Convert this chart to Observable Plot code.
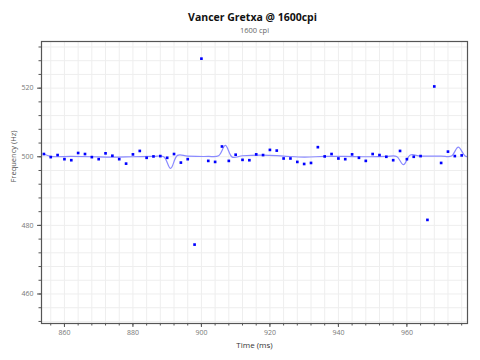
<!DOCTYPE html>
<html>
<head>
<meta charset="utf-8">
<script src="https://cdn.jsdelivr.net/npm/d3@7"></script>
<script src="https://cdn.jsdelivr.net/npm/@observablehq/plot@0.6"></script>
<style>
  body { margin: 0; background: #fff; }
  svg { font-family: "Open Sans", "Noto Sans", sans-serif; }
</style>
</head>
<body>
<div id="chart"></div>
<script>
const title = "Vancer Gretxa @ 1600cpi";
const subtitle = "1600 cpi";
const xLabel = "Time (ms)";
const yLabel = "Frequency (Hz)";

// Sample times (ms) and measured frequencies (Hz)
const times = [854, 856, 858, 860, 862, 864, 866, 868, 870, 872,
  874, 876, 878, 880, 882, 884, 886, 888, 890, 892,
  894, 896, 898, 900, 902, 904, 906, 908, 910, 912,
  914, 916, 918, 920, 922, 924, 926, 928, 930, 932,
  934, 936, 938, 940, 942, 944, 946, 948, 950, 952,
  954, 956, 958, 960, 962, 964, 966, 968, 970, 972,
  974, 976, 978];
const freqs = [500.8, 499.9, 500.5, 499.3, 499.0, 501.1, 500.8, 499.9, 499.3, 501.0,
  500.3, 499.3, 498.0, 500.7, 501.7, 499.7, 500.1, 500.2, 499.7, 500.8,
  498.3, 499.3, 474.4, 528.6, 498.8, 498.5, 503.0, 498.8, 500.6, 499.1,
  499.0, 500.7, 500.5, 502.0, 501.8, 499.5, 499.5, 498.5, 497.9, 498.2,
  502.8, 500.1, 500.8, 499.5, 499.3, 500.7, 499.7, 498.8, 500.8, 500.5,
  500.0, 499.0, 501.7, 499.3, 500.0, 500.2, 481.6, 520.5, 498.2, 501.5,
  500.2, 500.4, 497.4];

// Smoothed trend line (estimated control points)
const trendTimes = [854, 856, 862, 868, 874, 880, 886, 889, 891, 893,
  896, 902, 905, 907, 909, 912, 918, 924, 930, 936,
  942, 948, 954, 957, 959, 961, 964, 970, 973, 975,
  977, 978];
const trendFreqs = [500.8, 500.1, 500.1, 500.0, 499.9, 500.0, 500.1, 500.0, 496.6, 500.4,
  500.2, 500.1, 500.3, 503.3, 499.9, 500.3, 500.5, 500.2, 499.9, 500.1,
  500.1, 500.0, 500.1, 500.1, 497.7, 500.5, 500.2, 500.2, 500.2, 502.8,
  500.2, 500.0];

const xMajor = [860, 880, 900, 920, 940, 960];
const xMinor = [856, 860, 864, 868, 872, 876, 880, 884, 888, 892, 896, 900, 904, 908, 912, 916, 920, 924, 928, 932, 936, 940, 944, 948, 952, 956, 960, 964, 968, 972, 976];
const yMajor = [460, 480, 500, 520];
const yMinor = [452, 456, 460, 464, 468, 472, 476, 480, 484, 488, 492, 496, 500, 504, 508, 512, 516, 520, 524, 528, 532];

const points = times.map((t, i) => ({t, f: freqs[i]}));
const trend = trendTimes.map((t, i) => ({t, f: trendFreqs[i]}));

const chart = Plot.plot({
  width: 480,
  height: 360,
  marginLeft: 41,
  marginRight: 13,
  marginTop: 41,
  marginBottom: 37,
  style: {fontFamily: "'Open Sans', 'Noto Sans', sans-serif", background: "#fff"},
  x: {domain: [853.3, 977.7]},
  y: {domain: [451.4, 533.6]},
  marks: [
    Plot.gridX(xMinor, {stroke: "#eeeeee", strokeOpacity: 1}),
    Plot.gridY(yMinor, {stroke: "#eeeeee", strokeOpacity: 1}),
    Plot.line(trend, {x: "t", y: "f", curve: "catmull-rom", stroke: "#8a8aff", strokeWidth: 1.2, clip: true}),
    Plot.dot(points, {x: "t", y: "f", symbol: "square", r: 1.5, fill: "#0000ff", stroke: "none", clip: true}),
    Plot.frame({stroke: "#555", strokeWidth: 1.2}),
    Plot.axisX(xMinor, {tickSize: 2.5, tickFormat: () => "", label: null, stroke: "#555"}),
    Plot.axisX(xMajor, {tickSize: 4, tickPadding: 3, label: null, fontSize: 7, fill: "#777", stroke: "#555"}),
    Plot.axisY(yMinor, {tickSize: 2.5, tickFormat: () => "", label: null, stroke: "#555"}),
    Plot.axisY(yMajor, {tickSize: 4, tickPadding: 4, label: null, fontSize: 7, fill: "#777", stroke: "#555"}),
    Plot.text([xLabel], {text: d => d, frameAnchor: "bottom", dy: 24, fontSize: 8, fill: "#333"}),
    Plot.text([yLabel], {text: d => d, frameAnchor: "left", dx: -28, rotate: -90, fontSize: 7.5, fill: "#555"}),
    Plot.text([title], {text: d => d, frameAnchor: "top", dy: -28, dx: -2, fontSize: 10.5, fontWeight: "bold", fill: "#111"}),
    Plot.text([subtitle], {text: d => d, frameAnchor: "top", dy: -14, fontSize: 7.5, fill: "#666"})
  ]
});
document.getElementById("chart").appendChild(chart);
</script>
</body>
</html>
